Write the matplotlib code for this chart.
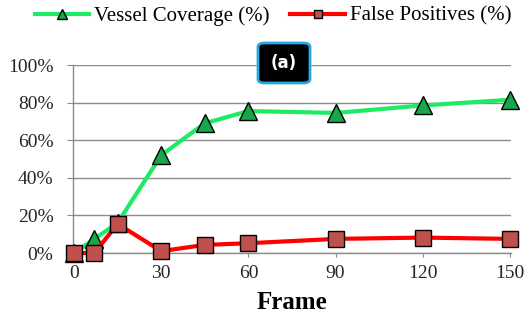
import matplotlib
matplotlib.use("Agg")
import matplotlib.pyplot as plt
from matplotlib.ticker import PercentFormatter
from matplotlib.patches import FancyBboxPatch

frames = [0, 7, 15, 30, 45, 60, 90, 120, 150]
vessel_coverage = [0, 7.5, 16, 52, 69, 75.5, 74.5, 78.5, 81.5]
false_positives = [0, 0, 15.5, 1, 4.3, 5.2, 7.5, 8.2, 7.5]
xticks = [0, 30, 60, 90, 120, 150]
yticks = [0, 20, 40, 60, 80, 100]
series_names = ["Vessel Coverage (%)", "False Positives (%)"]
panel_label = "(a)"

plt.rcParams['font.family'] = ['Liberation Serif', 'DejaVu Serif']

fig = plt.figure(figsize=(5.3, 3.32), dpi=100)
ax = fig.add_axes([73/530, 1-253/332, (511-73)/530, (253-65)/332])

grid_c = '#8c8c8c'
ax.set_xlim(-0.35, 150.35)
ax.set_ylim(0, 100)
ax.set_yticks(yticks)
ax.set_xticks(xticks)
ax.yaxis.set_major_formatter(PercentFormatter(decimals=0))
ax.grid(axis='y', color=grid_c, linewidth=1.0)
ax.set_axisbelow(True)
for s in ['top', 'right']:
    ax.spines[s].set_visible(False)
for s in ['left', 'bottom']:
    ax.spines[s].set_color(grid_c)
    ax.spines[s].set_linewidth(1.0)
ax.tick_params(axis='y', length=4, color=grid_c, labelsize=14, pad=10, labelcolor='#262626')
ax.tick_params(axis='x', length=3, color=grid_c, labelsize=14, pad=6, labelcolor='#262626')

ax.plot(frames, vessel_coverage, color='#1EEB64', linewidth=3.0, marker='^',
        markersize=13, markerfacecolor='#17A64A', markeredgecolor='black',
        markeredgewidth=1.0, clip_on=False, zorder=3, label=series_names[0])
ax.plot(frames, false_positives, color='#FF0000', linewidth=3.0, marker='s',
        markersize=11.5, markerfacecolor='#C0504D', markeredgecolor='black',
        markeredgewidth=1.0, clip_on=False, zorder=4, label=series_names[1])

ax.set_xlabel("Frame", fontsize=18, fontweight='bold', labelpad=6)

h, l = ax.get_legend_handles_labels()
leg = fig.legend(h, l, loc='center', bbox_to_anchor=(273/530, 1-16/332), ncol=2,
                 frameon=False, fontsize=15, handlelength=2.6, columnspacing=1.0,
                 handletextpad=0.25, markerscale=0.55)

# panel label box
bw, bh = 52/530, 40/332
cx, cy = 284/530, 1-63/332
box = FancyBboxPatch((cx-bw/2, cy-bh/2), bw, bh, boxstyle="round,pad=0,rounding_size=0.012",
                     transform=fig.transFigure, facecolor='black', edgecolor='#29A8E8',
                     linewidth=2.0, zorder=10)
fig.patches.append(box)
fig.text(cx, cy, panel_label, ha='center', va='center', color='white', fontsize=12,
         fontweight='bold', family='DejaVu Sans', zorder=11)

fig.savefig('out.png', dpi=100)
